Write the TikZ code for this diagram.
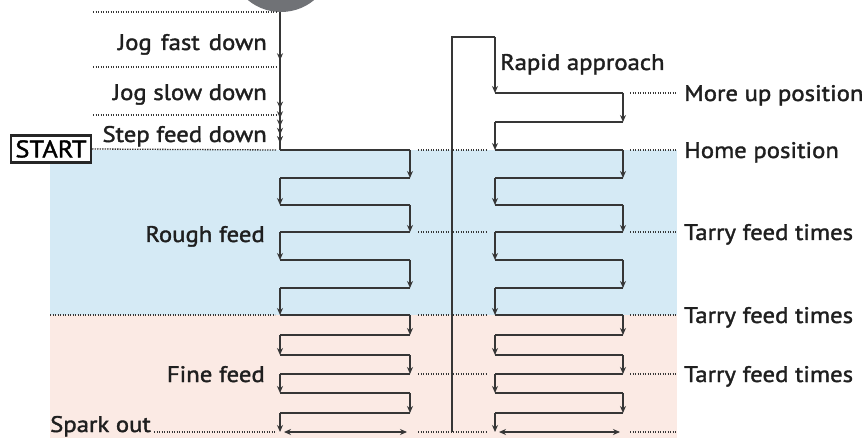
\documentclass[tikz,border=0pt]{standalone}
\usepackage{fontspec}
\setmainfont{PT Sans}[FakeStretch=1.1, FakeBold=1.6]
\usetikzlibrary{arrows.meta,calc,positioning,decorations.markings}
\definecolor{roughblue}{HTML}{D5EAF5}
\definecolor{finepink}{HTML}{FBEAE4}
\definecolor{pathgray}{HTML}{363636}
\definecolor{headgray}{HTML}{707276}

\begin{document}
\begin{tikzpicture}[x=1pt, y=-1pt,
		flow/.style={draw=pathgray, line width=2pt},
		guide/.style={draw=pathgray, line width=1.3pt, dash pattern=on 1.3pt off 1.2pt},
		lbl/.style={font=\fontsize{22.5}{26}\selectfont, inner sep=0pt, text=black!88},
		startbox/.style={draw=black!85, line width=2.4pt, fill=white, inner sep=0pt,
			minimum width=80pt, minimum height=27pt, font=\fontsize{24}{28}\selectfont},
		>={Stealth[length=7pt,width=6pt]}
		]
	\useasboundingbox (0,0) rectangle (862,438);
	\clip (0,0) rectangle (862,438);

	% bands and grinding head
	\fill[roughblue] (50,150) rectangle (677,315);
	\fill[finepink] (50,315) rectangle (677,438);
	\fill[headgray] (281,-40) circle (52);

	% corner points of the two feed paths
	\foreach \y [count=\i] in {150,178,205,232,260,288,315,335,355,374,393,413,432} {
		\coordinate (la\i) at (280,\y);
		\coordinate (lb\i) at (410,\y);
		\coordinate (ra\i) at (495,\y);
		\coordinate (rb\i) at (623,\y);
	}
	\coordinate (c0) at (280,12);
	\coordinate (c1) at (280,67);
	\coordinate (c2) at (280,115);
	\coordinate (d0) at (93,12);
	\coordinate (d1) at (93,67);
	\coordinate (d2) at (93,115);
	\coordinate (fineL) at (50,315);
	\coordinate (rbot) at (452,432);
	\coordinate (rtop) at (452,37);
	\coordinate (rtr) at (495,37);
	\coordinate (ru1) at (495,93);
	\coordinate (ru1b) at (623,93);
	\coordinate (ru2b) at (623,122);
	\coordinate (ru2) at (495,122);
	\coordinate (edgeR) at (677,432);

	% labels
	\node[startbox] (start) at (51,149) {START};
	\node[lbl, anchor=base east] (jogfast) at (267,50) {Jog\hspace{0.4em}fast\hspace{0.4em}down};
	\node[lbl, anchor=base east] (jogslow) at (267,100) {Jog slow down};
	\node[lbl, anchor=base east] (stepfeed) at (267,142) {Step feed down};
	\node[lbl, anchor=base east] (rough) at (265,242) {Rough feed};
	\node[lbl, anchor=base east] (fine) at (265,382) {Fine feed};
	\node[lbl, anchor=base west] (spark) at (50,432) {Spark out};
	\node[lbl, anchor=base west] (rapid) at (500,70) {Rapid approach};
	\node[lbl, anchor=base west] (moreup) at (684,101) {More up position};
	\node[lbl, anchor=base west] (home) at (684,158) {Home position};
	\node[lbl, anchor=base west] (tarryA) at (684,240) {Tarry feed times};
	\node[lbl, anchor=base west] (tarryB) at (684,323) {Tarry feed times};
	\node[lbl, anchor=base west] (tarryC) at (684,382) {Tarry feed times};

	% dotted guides
	\draw[guide] (d0) -- ([xshift=-3]c0);
	\draw[guide] (d1) -- ([xshift=-3]c1);
	\draw[guide] (d2) -- ([xshift=-3]c2);
	\draw[guide] (start.east) -- ([xshift=-3]la1);
	\draw[guide] (fineL) -- ([xshift=-5]la7);
	\draw[guide] ([xshift=3]spark.base east) -- ([xshift=-5]la13);
	\foreach \k in {1,4,7,10,13}
		\draw[guide] ([xshift=8]lb\k) -- ([xshift=-8]ra\k);
	\draw[guide, shorten >=7pt] ([xshift=7]ru1b) -- (ru1b -| moreup.west);
	\draw[guide, shorten >=7pt] ([xshift=7]rb1) -- (rb1 -| home.west);
	\draw[guide, shorten >=7pt] ([xshift=7]rb4) -- (rb4 -| tarryA.west);
	\draw[guide, shorten >=7pt] ([xshift=7]rb7) -- (rb7 -| tarryB.west);
	\draw[guide, shorten >=7pt] ([xshift=7]rb10) -- (rb10 -| tarryC.west);
	\draw[guide] ([xshift=7]rb13) -- (edgeR);

	% approach from the head
	\draw[flow, postaction={decorate}, decoration={markings,
		mark=at position 0.35 with {\arrow{>}},
		mark=at position 0.70 with {\arrow{>}},
		mark=at position 0.77 with {\arrow{>}},
		mark=at position 0.83 with {\arrow{>}},
		mark=at position 0.89 with {\arrow{>}},
		mark=at position 0.95 with {\arrow{>}}}] (c0) -- (la1);

	% rapid return and approach
	\draw[flow] (rbot) -- (rtop) -- (rtr);
	\draw[flow, ->] (rtr) -- (ru1);
	\draw[flow] (ru1) -- (ru1b);
	\draw[flow, ->] (ru1b) -- (ru2b);
	\draw[flow] (ru2b) -- (ru2);
	\draw[flow, ->] (ru2) -- (ra1);

	% feed zigzags
	\foreach \i [evaluate=\i as \j using int(\i+1)] in {1,...,12} {
		\ifodd\i\relax
			\draw[flow] (la\i) -- (lb\i);
			\draw[flow, ->] (lb\i) -- (lb\j);
			\draw[flow] (ra\i) -- (rb\i);
			\draw[flow, ->] (rb\i) -- (rb\j);
		\else
			\draw[flow] (lb\i) -- (la\i);
			\draw[flow, ->] (la\i) -- (la\j);
			\draw[flow] (rb\i) -- (ra\i);
			\draw[flow, ->] (ra\i) -- (ra\j);
		\fi
	}

	% spark out
	\draw[flow, <->, shorten <=4pt, shorten >=3pt] (la13) -- (lb13);
	\draw[flow, <->, shorten <=4pt, shorten >=3pt] (ra13) -- (rb13);

\end{tikzpicture}
\end{document}
